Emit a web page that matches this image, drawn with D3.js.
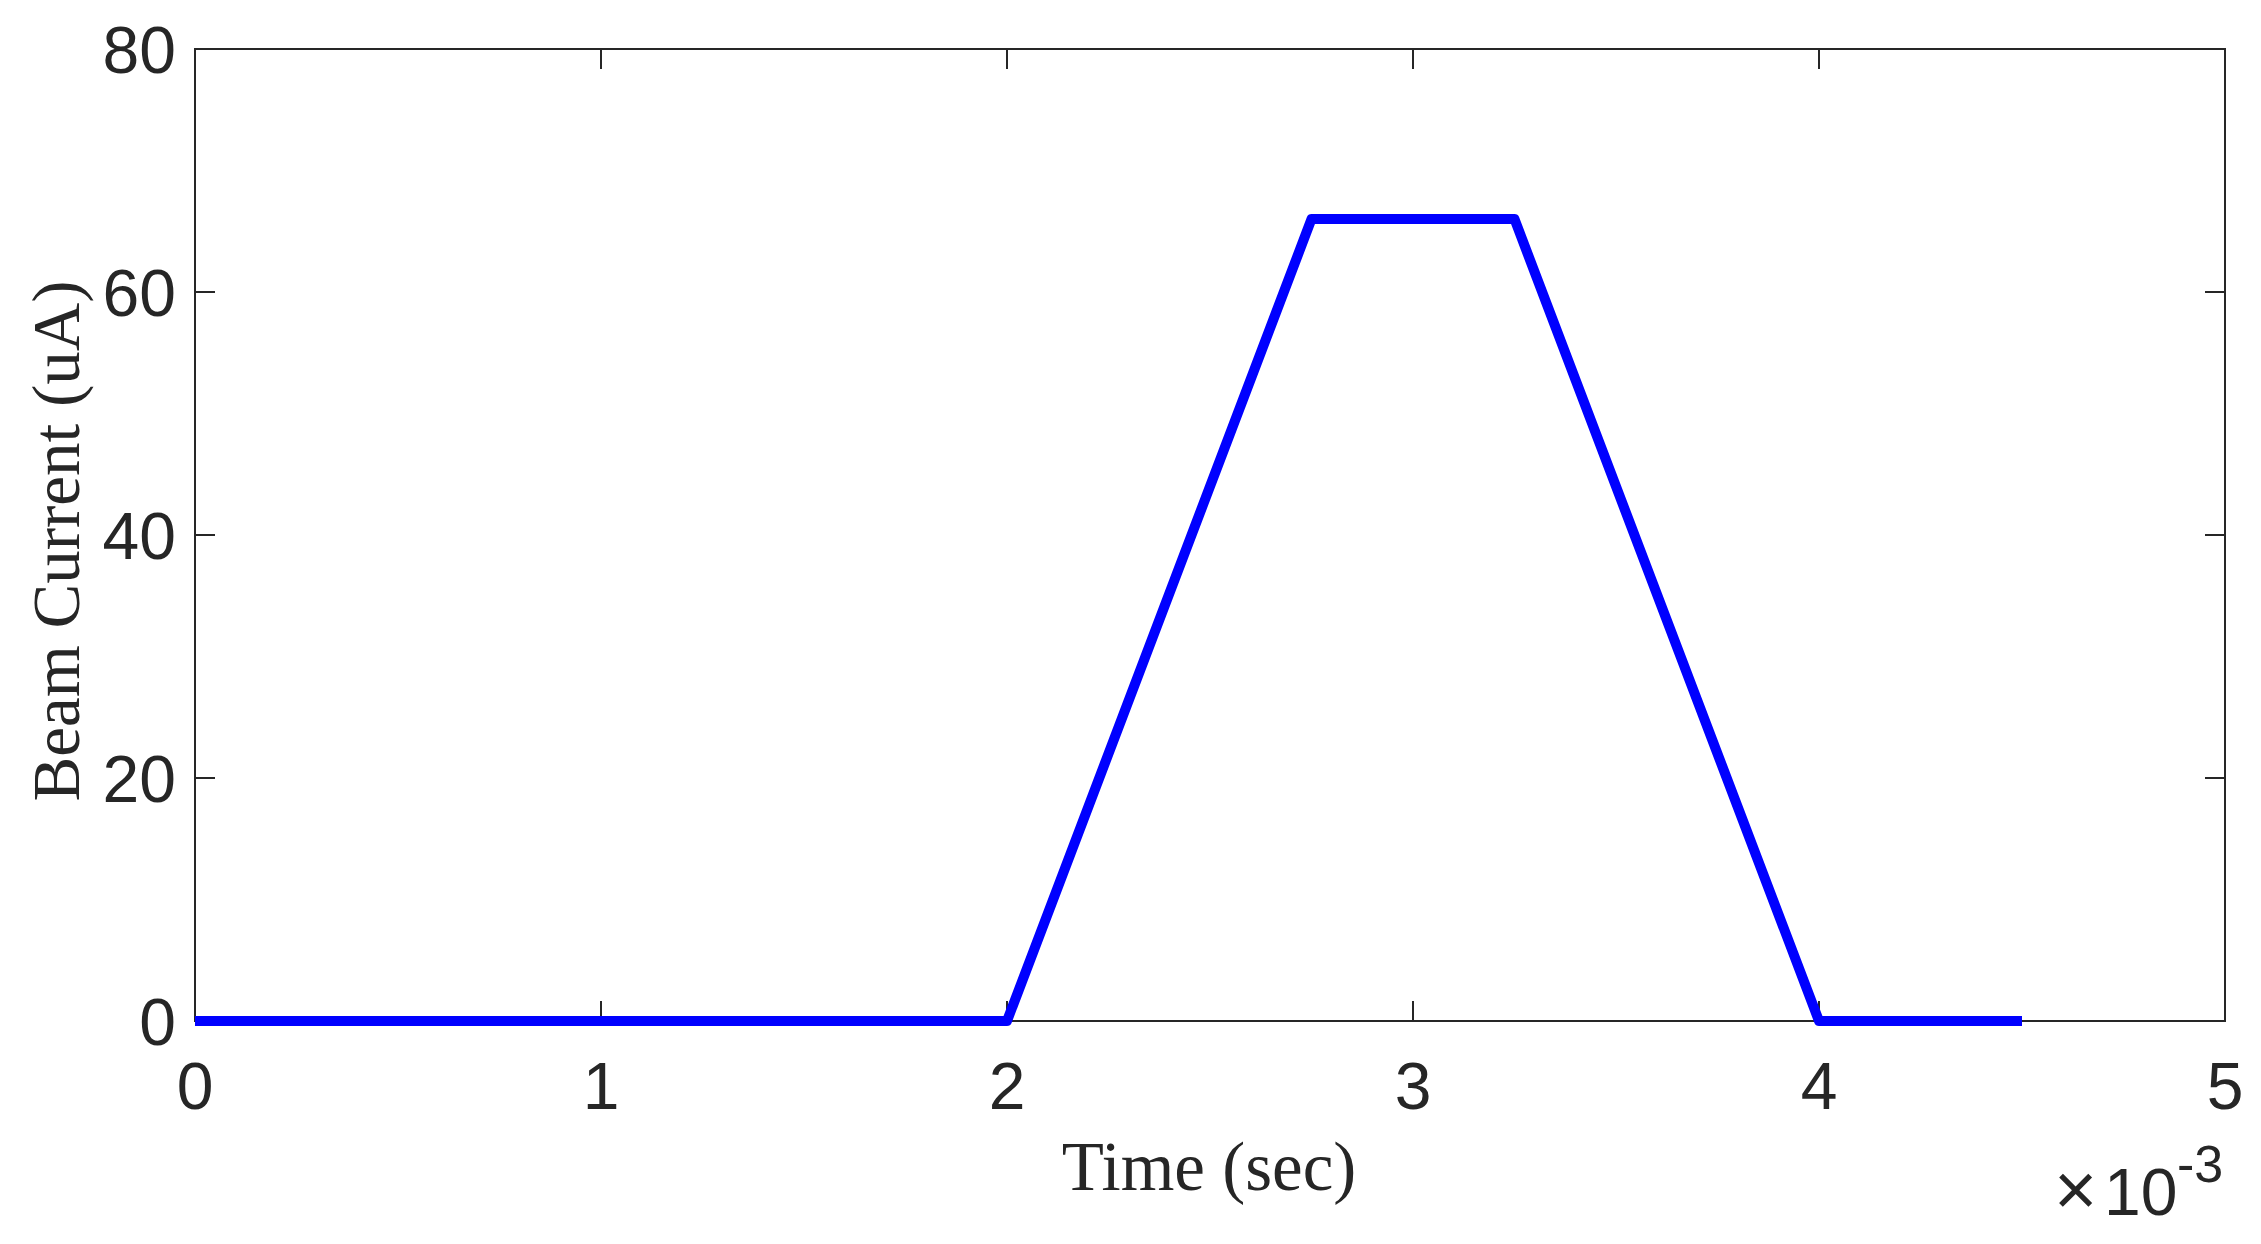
<!DOCTYPE html>
<html><head><meta charset="utf-8">
<script src="https://cdn.jsdelivr.net/npm/d3@7"></script>
<style>html,body{margin:0;padding:0;background:#fff;}svg{display:block;}</style>
</head><body>
<script>
const timeMs = [0, 2, 2.75, 3.25, 4, 4.5];        // ×10^-3 s
const current = [0, 0, 66, 66, 0, 0];              // uA
const xTicks = [0, 1, 2, 3, 4, 5];
const yTicks = [0, 20, 40, 60, 80];
const xLabel = "Time (sec)";
const yLabel = "Beam Current (uA)";

const W = 2261, H = 1244;
const m = {left: 195, right: 2225, top: 49, bottom: 1021};
const svg = d3.select("body").append("svg").attr("width", W).attr("height", H);
const x = d3.scaleLinear().domain([0, 5]).range([m.left, m.right]);
const y = d3.scaleLinear().domain([0, 80]).range([m.bottom, m.top]);
const axCol = "#262626";
const tickFont = "'Liberation Sans', Arial, Helvetica, sans-serif";
const serif = "'Liberation Serif', 'Times New Roman', serif";
const tickLen = 20;

// box
svg.append("rect").attr("x", m.left).attr("y", m.top)
  .attr("width", m.right - m.left).attr("height", m.bottom - m.top)
  .attr("fill", "none").attr("stroke", axCol).attr("stroke-width", 2);

// ticks (inside, on all four sides)
const tk = svg.append("g").attr("stroke", axCol).attr("stroke-width", 2);
xTicks.forEach(v => {
  tk.append("line").attr("x1", x(v)).attr("x2", x(v)).attr("y1", m.bottom).attr("y2", m.bottom - tickLen);
  tk.append("line").attr("x1", x(v)).attr("x2", x(v)).attr("y1", m.top).attr("y2", m.top + tickLen);
});
yTicks.forEach(v => {
  tk.append("line").attr("y1", y(v)).attr("y2", y(v)).attr("x1", m.left).attr("x2", m.left + tickLen);
  tk.append("line").attr("y1", y(v)).attr("y2", y(v)).attr("x1", m.right).attr("x2", m.right - tickLen);
});

// tick labels
svg.append("g").selectAll("text").data(xTicks).join("text")
  .attr("x", d => x(d)).attr("y", 1109).attr("text-anchor", "middle")
  .attr("font-family", tickFont).attr("font-size", 66).attr("fill", axCol)
  .text(d => d);
svg.append("g").selectAll("text").data(yTicks).join("text")
  .attr("x", 176).attr("y", d => y(d) + 24).attr("text-anchor", "end")
  .attr("font-family", tickFont).attr("font-size", 66).attr("fill", axCol)
  .text(d => d);

// exponent
const ex = svg.append("text").attr("x", 2054).attr("y", 1215)
  .attr("font-family", tickFont).attr("font-size", 66).attr("fill", axCol);
ex.append("tspan").attr("font-size", 74).text("×");
ex.append("tspan").attr("x", 2104).text("10");
ex.append("tspan").attr("x", 2177).attr("y", 1182).attr("font-size", 52).text("-3");

// axis labels
svg.append("text").attr("x", 1209).attr("y", 1190)
  .attr("text-anchor", "middle").attr("font-family", serif).attr("font-size", 69)
  .attr("fill", axCol).text(xLabel);
svg.append("text").attr("transform", `translate(79,541) rotate(-90)`)
  .attr("text-anchor", "middle").attr("font-family", serif).attr("font-size", 67)
  .attr("fill", axCol).text(yLabel);

// line
const line = d3.line().x((d, i) => x(timeMs[i])).y((d, i) => y(current[i]));
svg.append("path").datum(current).attr("d", line)
  .attr("fill", "none").attr("stroke", "#0000ff").attr("stroke-width", 10)
  .attr("stroke-linejoin", "round");
</script>
</body></html>
